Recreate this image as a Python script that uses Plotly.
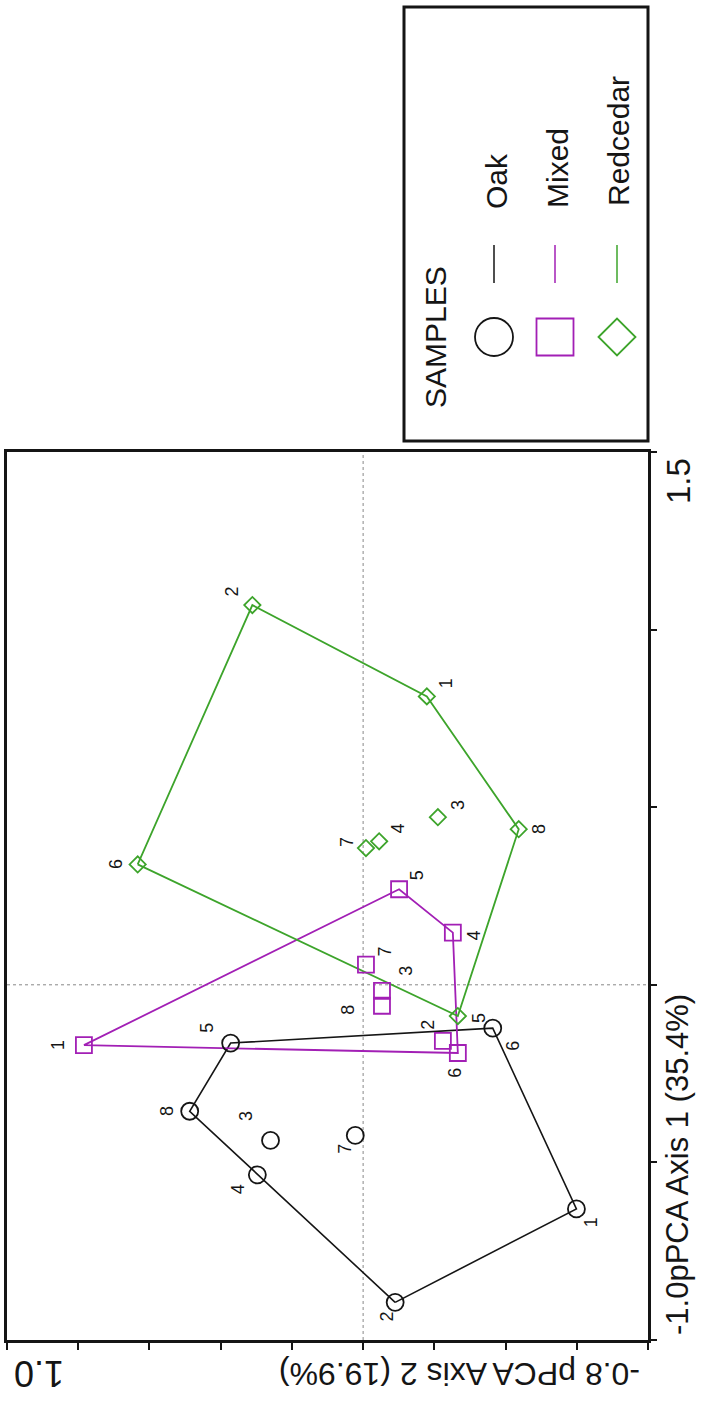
import plotly.graph_objects as go

# ---------------- data ----------------
sample_ids = ["1", "2", "3", "4", "5", "6", "7", "8"]

oak_axis1 = [-0.631, -0.894, -0.438, -0.535, -0.164, -0.122, -0.424, -0.356]
oak_axis2 = [-0.599, -0.090, 0.260, 0.297, 0.372, -0.364, 0.022, 0.487]

mixed_axis1 = [-0.170, -0.158, -0.017, 0.147, 0.269, -0.192, 0.057, -0.059]
mixed_axis2 = [0.784, -0.224, -0.053, -0.252, -0.101, -0.266, -0.008, -0.053]

redcedar_axis1 = [0.812, 1.069, 0.472, 0.404, -0.088, 0.339, 0.385, 0.438]
redcedar_axis2 = [-0.179, 0.311, -0.210, -0.045, -0.266, 0.633, -0.008, -0.437]

oak_hull = ["2", "4", "8", "5", "6", "1", "2"]
mixed_hull = ["1", "5", "4", "6", "1"]
redcedar_hull = ["6", "2", "1", "8", "5", "6"]

group_names = ["Oak", "Mixed", "Redcedar"]
legend_title = "SAMPLES"
axis1_title = "-1.0pPCA Axis 1 (35.4%)"
axis1_max_label = "1.5"
axis2_title = "-0.8 pPCA Axis 2 (19.9%)"
axis2_max_label = "1.0"

# ---------------- style ----------------
W, H = 710, 1406
FONT = "Arial, Liberation Sans, sans-serif"
BLACK = "#151515"
PURPLE = "#A21FB5"
GREEN = "#3DA42B"

# label offsets in pixels (dx right, dy down)
oak_off = [(15, 13), (-8, 14), (-24, -24), (-20, 14), (-24, -15), (20, 18), (-10, 13), (-22, 0)]
mixed_off = [(-26, 0), (-15, -16), (24, -20), (21, 3), (18, -14), (-3, 20), (19, -13), (-34, 4)]
red_off = [(20, -13), (-20, -14), (20, -12), (19, -13), (21, 2), (-21, 0), (-19, -6), (20, 0)]


def px(x):
    return x / W


def py(y):
    return 1 - y / H


def note(x, y, text, size, angle, family=FONT):
    return dict(x=px(x), y=py(y), xref="paper", yref="paper", text=text,
                showarrow=False, textangle=angle, xanchor="center", yanchor="middle",
                font=dict(family=family, size=size, color=BLACK))


groups = [
    dict(name=group_names[0], a1=oak_axis1, a2=oak_axis2, hull=oak_hull, color=BLACK,
         symbol="circle-open", size=17, off=oak_off, lw=1.6),
    dict(name=group_names[1], a1=mixed_axis1, a2=mixed_axis2, hull=mixed_hull, color=PURPLE,
         symbol="square-open", size=16, off=mixed_off, lw=1.8),
    dict(name=group_names[2], a1=redcedar_axis1, a2=redcedar_axis2, hull=redcedar_hull, color=GREEN,
         symbol="diamond-open", size=12.5, off=red_off, lw=1.8),
]

fig = go.Figure()
annotations = []

for g in groups:
    idx = [sample_ids.index(s) for s in g["hull"]]
    fig.add_trace(go.Scatter(
        x=[g["a2"][i] for i in idx], y=[g["a1"][i] for i in idx],
        mode="lines", line=dict(color=g["color"], width=g["lw"]),
        showlegend=False, hoverinfo="skip"))
for g in groups:
    fig.add_trace(go.Scatter(
        x=g["a2"], y=g["a1"], mode="markers", name=g["name"],
        marker=dict(symbol=g["symbol"], size=g["size"], color=g["color"],
                    line=dict(color=g["color"], width=1.8)),
        text=sample_ids, showlegend=False))
    for i, s in enumerate(sample_ids):
        dx, dy = g["off"][i]
        annotations.append(dict(
            x=g["a2"][i], y=g["a1"][i], xref="x", yref="y", text=s,
            showarrow=False, textangle=-90, xshift=dx, yshift=-dy,
            xanchor="center", yanchor="middle",
            font=dict(family=FONT, size=18, color=BLACK)))

# axis end labels and titles (rotated like the reference)
annotations += [
    note(39, 1374, axis2_max_label, 36, 180),
    note(460, 1374, axis2_title, 32, 180),
    note(679, 481, axis1_max_label, 33, -90),
    note(677, 1165, axis1_title, 31, -90),
]

shapes = [
    # zero reference lines
    dict(type="line", xref="x", yref="y domain", x0=0, x1=0, y0=0, y1=1,
         line=dict(color="#888888", width=1, dash="dot"), layer="below"),
    dict(type="line", xref="x domain", yref="y", x0=0, x1=1, y0=0, y1=0,
         line=dict(color="#888888", width=1, dash="dot"), layer="below"),
    # legend box
    dict(type="rect", xref="paper", yref="paper", x0=px(404), x1=px(648), y0=py(441), y1=py(7),
         line=dict(color=BLACK, width=3), fillcolor="white"),
]

# legend entries
leg_x = [494, 555, 617]
leg_y = 337
for k, g in enumerate(groups):
    cx = leg_x[k]
    if k == 0:
        shapes.append(dict(type="circle", xref="paper", yref="paper",
                           x0=px(cx - 19), x1=px(cx + 19), y0=py(leg_y + 19), y1=py(leg_y - 19),
                           line=dict(color=g["color"], width=1.8)))
    elif k == 1:
        shapes.append(dict(type="rect", xref="paper", yref="paper",
                           x0=px(cx - 18.5), x1=px(cx + 18.5), y0=py(leg_y + 18.5), y1=py(leg_y - 18.5),
                           line=dict(color=g["color"], width=1.8)))
    else:
        r = 18.5
        path = (f"M {px(cx - r)} {py(leg_y)} L {px(cx)} {py(leg_y - r)} "
                f"L {px(cx + r)} {py(leg_y)} L {px(cx)} {py(leg_y + r)} Z")
        shapes.append(dict(type="path", xref="paper", yref="paper", path=path,
                           line=dict(color=g["color"], width=1.8)))
    shapes.append(dict(type="line", xref="paper", yref="paper",
                       x0=px(cx), x1=px(cx), y0=py(245), y1=py(283),
                       line=dict(color=g["color"], width=1.5)))

label_cy = [181, 168, 141]
for k, g in enumerate(groups):
    annotations.append(note(leg_x[k] + 2, label_cy[k], g["name"], 30, -90))
annotations.append(note(436, 337, legend_title, 30, -90))

fig.update_layout(
    width=W, height=H,
    margin=dict(l=0, r=0, t=0, b=0),
    paper_bgcolor="white", plot_bgcolor="white",
    showlegend=False,
    xaxis=dict(range=[1.0, -0.8], domain=[px(7), px(648)], dtick=0.2, tick0=0,
               ticks="outside", ticklen=7, tickwidth=1.5, tickcolor=BLACK,
               showticklabels=False, showgrid=False, zeroline=False,
               showline=True, linecolor=BLACK, linewidth=2.5, mirror=True),
    yaxis=dict(range=[-1.0, 1.5], domain=[py(1340), py(452)], dtick=0.5, tick0=0,
               side="right", ticks="outside", ticklen=6, tickwidth=1.5, tickcolor=BLACK,
               showticklabels=False, showgrid=False, zeroline=False,
               showline=True, linecolor=BLACK, linewidth=2.5, mirror=True),
    annotations=annotations,
    shapes=shapes,
)

fig.write_html("out.html", config={"displayModeBar": False},
               post_script="document.body.style.margin='0px';")
